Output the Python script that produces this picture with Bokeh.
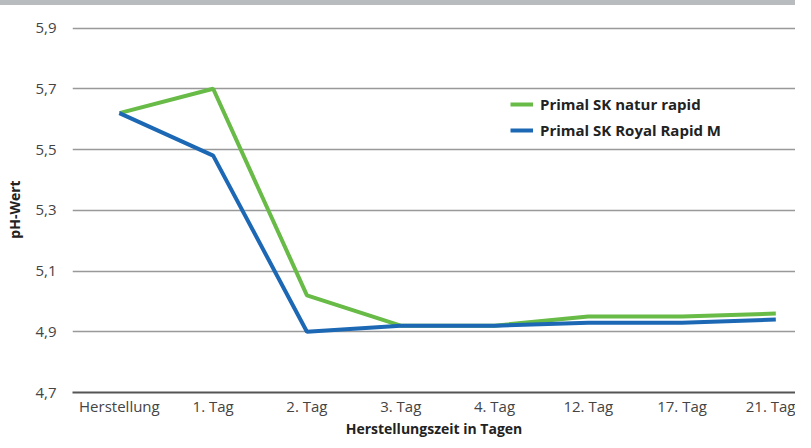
from bokeh.plotting import figure
from bokeh.models import FixedTicker, Legend, LegendItem, Range1d, Div
from bokeh.layouts import column
from bokeh.embed import file_html
from bokeh.resources import INLINE

categories = ["Herstellung", "1. Tag", "2. Tag", "3. Tag", "4. Tag", "12. Tag", "17. Tag", "21. Tag"]
natur_rapid = [5.62, 5.70, 5.02, 4.92, 4.92, 4.95, 4.95, 4.96]
royal_rapid = [5.62, 5.48, 4.90, 4.92, 4.92, 4.93, 4.93, 4.94]
y_ticks = [4.7, 4.9, 5.1, 5.3, 5.5, 5.7, 5.9]
y_tick_labels = ["4,7", "4,9", "5,1", "5,3", "5,5", "5,7", "5,9"]
series_names = ["Primal SK natur rapid", "Primal SK Royal Rapid M"]
x_title = "Herstellungszeit in Tagen"
y_title = "pH-Wert"

xs = list(range(len(categories)))

p = figure(width=795, height=435, output_backend="svg", toolbar_location=None,
           x_range=Range1d(-0.5, 7.21), y_range=Range1d(4.7, 5.905),
           min_border_left=72, min_border_right=0, min_border_top=21, min_border_bottom=47)
p.outline_line_color = None
p.background_fill_color = "white"
p.border_fill_color = "white"

font = "Open Sans"

# x axis
p.xaxis.ticker = FixedTicker(ticks=xs)
p.xaxis.major_label_overrides = {i: c for i, c in enumerate(categories)}
p.xaxis.major_tick_line_color = None
p.xaxis.minor_tick_line_color = None
p.xaxis.axis_line_color = "#555555"
p.xaxis.axis_line_width = 2
p.xaxis.major_label_text_font = font
p.xaxis.major_label_text_font_size = "15px"
p.xaxis.major_label_text_color = "#444444"
p.xaxis.major_label_standoff = -3
p.xaxis.axis_label = x_title
p.xaxis.axis_label_text_font = font
p.xaxis.axis_label_text_font_style = "bold"
p.xaxis.axis_label_text_font_size = "14px"
p.xaxis.axis_label_text_color = "#222222"
p.xaxis.axis_label_standoff = 0

# y axis
p.yaxis.ticker = FixedTicker(ticks=y_ticks)
p.yaxis.major_label_overrides = {t: l for t, l in zip(y_ticks, y_tick_labels)}
p.yaxis.axis_line_color = None
p.yaxis.major_tick_line_color = None
p.yaxis.minor_tick_line_color = None
p.yaxis.major_label_text_font = font
p.yaxis.major_label_text_font_size = "15px"
p.yaxis.major_label_text_color = "#444444"
p.yaxis.major_label_standoff = 10
p.yaxis.axis_label = y_title
p.yaxis.axis_label_text_font = font
p.yaxis.axis_label_text_font_style = "bold"
p.yaxis.axis_label_text_font_size = "14px"
p.yaxis.axis_label_text_color = "#222222"
p.yaxis.axis_label_standoff = 8

p.xgrid.grid_line_color = None
p.ygrid.ticker = FixedTicker(ticks=y_ticks[1:])
p.ygrid.grid_line_color = "#999999"
p.ygrid.grid_line_width = 1.5

g = p.line(xs, natur_rapid, line_color="#67bb46", line_width=4)
b = p.line(xs, royal_rapid, line_color="#1c68b4", line_width=4)

legend = Legend(items=[LegendItem(label=series_names[0], renderers=[g]),
                       LegendItem(label=series_names[1], renderers=[b])],
                location=(438, 252), orientation="vertical",
                border_line_color=None, background_fill_alpha=0,
                glyph_width=23, glyph_height=20, label_height=20, spacing=6,
                padding=0, margin=0, label_standoff=7,
                label_text_font=font, label_text_font_style="bold",
                label_text_font_size="15px", label_text_color="#222222")
p.add_layout(legend, "center")

band = Div(text="", width=795, height=5,
           styles={"background-color": "#b8bcbf", "margin": "0", "padding": "0"})

layout = column(band, p, spacing=0)

open("out.html", "w").write(file_html(layout, INLINE))
